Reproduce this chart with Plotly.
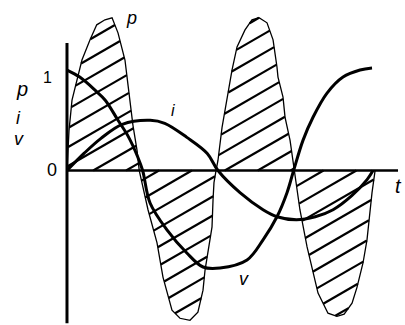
import numpy as np
import plotly.graph_objects as go

# ωt in degrees; v, i and p = v·i drawn on a shared value scale
v_deg = [0, 15, 33, 45, 60, 72, 83, 89, 97.6, 117.6, 141, 160, 180, 211.8,
         230.6, 247, 258.8, 265.9, 277.6, 289.4, 305.9, 324.7, 344.7, 358.8]
v_val = [1.0, 0.93, 0.80, 0.70, 0.50, 0.34, 0.14, 0.0, -0.32, -0.59, -0.82, -0.96,
         -0.97, -0.89, -0.69, -0.46, -0.22, -0.02, 0.30, 0.53, 0.77, 0.93, 1.0, 1.02]

i_deg = [0, 20, 40, 65, 98, 115, 141, 165, 177.6, 203.5, 230.6, 247, 270, 292,
         313, 335, 353, 360]
i_val = [0, 0.17, 0.32, 0.46, 0.50, 0.47, 0.33, 0.17, 0.0, -0.22, -0.39, -0.46,
         -0.49, -0.46, -0.39, -0.25, -0.09, 0.0]

p_deg = [0, 2.4, 5.9, 11.8, 17.6, 27, 35, 44.7, 53, 60, 68.2, 71.8, 74, 77.6, 82.4, 85,
         95.3, 105.9, 112.9, 123.5, 132.9, 144.7, 154, 160, 162.4, 165.9, 170.6, 171.8, 172.9, 175.3,
         177.6, 182.4, 188.2, 194.1, 200, 209.4, 217.6, 225.9, 235.3, 242.4, 247, 248.2, 254.1,
         256.5, 262.4, 265.9, 267.5,
         274, 282.4, 289.4, 295.3, 307, 317.6, 326, 335.3, 341.2, 348.2, 352.9, 356.5, 358.8, 362.4]
p_val = [0, 0.40, 0.70, 0.90, 1.10, 1.30, 1.45, 1.50, 1.52, 1.37, 1.10, 0.85, 0.70, 0.45, 0.20, 0,
         -0.39, -0.72, -1.06, -1.39, -1.47, -1.49, -1.41, -1.19, -0.99, -0.79, -0.56, -0.29, -0.12, 0,
         0.10, 0.43, 0.70, 1.0, 1.23, 1.40, 1.50, 1.52, 1.47, 1.30, 1.03, 0.93, 0.73,
         0.53, 0.30, 0.10, 0,
         -0.39, -0.76, -1.02, -1.22, -1.42, -1.45, -1.43, -1.32, -1.16, -0.92, -0.69, -0.39, -0.22, 0]

W, H = 405, 325
X_RANGE = [-78.8, 397.6]
Y_RANGE = [-1.537, 1.697]
px_per_deg = W / (X_RANGE[1] - X_RANGE[0])
px_per_unit = H / (Y_RANGE[1] - Y_RANGE[0])

# diagonal hatching of the area between p and the time axis (30° lines)
slope = np.tan(np.radians(30)) * px_per_deg / px_per_unit
gap = 19 / px_per_unit
grid = np.arange(p_deg[0], p_deg[-1], 0.05)
pg = np.interp(grid, p_deg, p_val)
hx, hy = [], []
for c in np.arange(-1.6 - slope * 400, 1.7, gap):
    line = c + slope * grid
    inside = ((pg > 0) & (line >= 0) & (line <= pg)) | ((pg < 0) & (line <= 0) & (line >= pg))
    edges = np.flatnonzero(np.diff(np.r_[0, inside.astype(int), 0]))
    for a, b in zip(edges[::2], edges[1::2]):
        if b - a < 2:
            continue
        hx += [grid[a], grid[b - 1], None]
        hy += [line[a], line[b - 1], None]

fig = go.Figure()
fig.add_trace(go.Scatter(x=hx, y=hy, mode="lines", line=dict(color="black", width=2.2),
                         hoverinfo="skip"))
fig.add_trace(go.Scatter(x=p_deg, y=p_val, mode="lines", line=dict(color="black", width=1.3)))

# axes
fig.add_trace(go.Scatter(x=[0, 0], y=[1.27, -1.52], mode="lines",
                         line=dict(color="black", width=3)))
fig.add_trace(go.Scatter(x=[-0.5, 389.4], y=[0, 0], mode="lines",
                         line=dict(color="black", width=2.5)))

fig.add_trace(go.Scatter(x=v_deg, y=v_val, mode="lines", line=dict(color="black", width=3, shape="spline")))
fig.add_trace(go.Scatter(x=i_deg, y=i_val, mode="lines", line=dict(color="black", width=3, shape="spline")))


def label(text, px, py, size, italic=True, xanchor="center"):
    fig.add_annotation(x=px / W, y=1 - py / H, xref="paper", yref="paper", text=text,
                       showarrow=False, xanchor=xanchor, yanchor="middle",
                       font=dict(family="Liberation Sans", size=size, color="black",
                                 style="italic" if italic else "normal"))


label("p", 22, 89, 20)
label("i", 18, 118, 18)
label("v", 19, 139, 18)
label("1", 47, 77, 16, italic=False)
label("0", 52, 170, 18, italic=False)
label("p", 131, 18, 18)
label("i", 173, 110, 16)
label("v", 244, 279, 18)
label("t", 393, 186, 20, xanchor="left")

fig.update_layout(
    width=W, height=H, margin=dict(l=0, r=0, t=0, b=0),
    paper_bgcolor="white", plot_bgcolor="white", showlegend=False,
    xaxis=dict(range=X_RANGE, visible=False, fixedrange=True),
    yaxis=dict(range=Y_RANGE, visible=False, fixedrange=True),
)
fig.write_html("out.html")
